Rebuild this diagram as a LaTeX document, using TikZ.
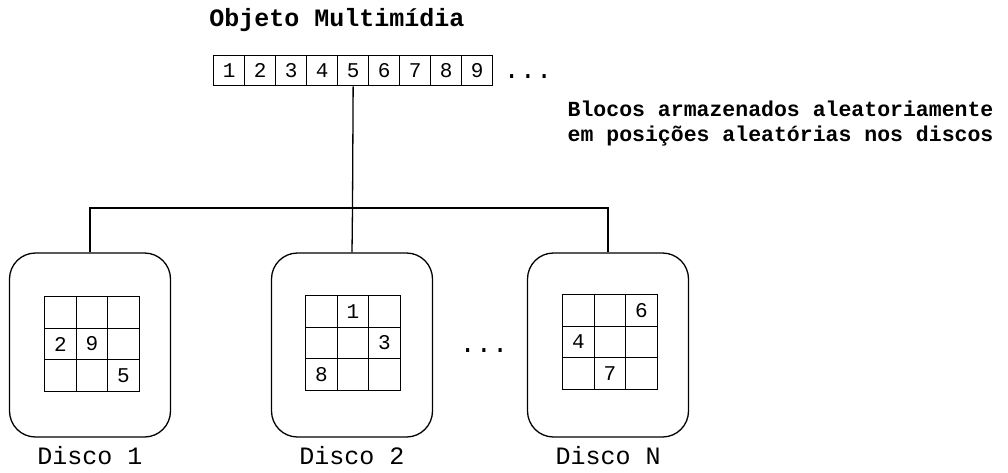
\documentclass[tikz,border=0pt]{standalone}
\usepackage{fontspec}
\setmainfont{Liberation Mono}
\usetikzlibrary{matrix}
\begin{document}
\begin{tikzpicture}[x=1pt,y=-1pt,line width=1.3pt,
  blk/.style={draw,minimum width=31pt,minimum height=30pt,inner sep=0pt,
    anchor=north west,font=\fontsize{21}{21}\selectfont},
  disk/.style={draw,rounded corners=26pt,minimum width=161pt,minimum height=184pt,inner sep=0pt},
  grid/.style={matrix of nodes,nodes in empty cells,inner sep=0pt,
    column sep=-1.3pt,row sep=-1.3pt,
    nodes={draw,minimum size=31.5pt,inner sep=0pt,anchor=center,
      font=\fontsize{21}{21}\selectfont}},
  lbl/.style={font=\fontsize{25}{25}\selectfont,inner sep=0pt},
  note/.style={font=\bfseries\fontsize{21.5}{25}\selectfont,inner sep=0pt,align=left,anchor=west},
  dots/.style={font=\fontsize{27}{27}\selectfont,inner sep=0pt,anchor=base west}]
\useasboundingbox (0,0) rectangle (1008,472);

% title and the object's block sequence
\node[lbl,font=\bfseries\fontsize{25}{25}\selectfont] (title) at (337,20) {Objeto Multimídia};
\foreach \i in {1,...,9}
  \node[blk] (b\i) at ({213+31*(\i-1)},55) {\i};
\node[dots] (more) at (503,78) {...};

\node[note] (note) at (567,124) {Blocos armazenados aleatoriamente\\em posições aleatórias nos discos};

% disks
\node[disk] (d1) at (90,345) {};
\node[disk] (d2) at (352,345) {};
\node[disk] (dN) at (608,345) {};
\node[lbl,anchor=north] (l1) at (d1.south) [yshift=-8pt] {Disco 1};
\node[lbl,anchor=north] (l2) at (d2.south) [yshift=-8pt] {Disco 2};
\node[lbl,anchor=north] (lN) at (dN.south) [yshift=-8pt] {Disco N};
\node[dots] (between) at (459,352) {...};

% block placement grids inside each disk
\matrix[grid] (g1) at (92,344) { & & \\ 2 & 9 & \\ & & 5 \\ };
\matrix[grid] (g2) at (353,343) { & 1 & \\ & & 3 \\ 8 & & \\ };
\matrix[grid] (gN) at (610,342) { & & 6 \\ 4 & & \\ & 7 & \\ };

% distribution tree
\coordinate (bus) at (352.5,208);
\draw (b5.south) -- (bus);
\draw (d1.north) |- (bus);
\draw (dN.north) |- (bus);
\draw (bus) -- (d2.north);
\end{tikzpicture}
\end{document}
